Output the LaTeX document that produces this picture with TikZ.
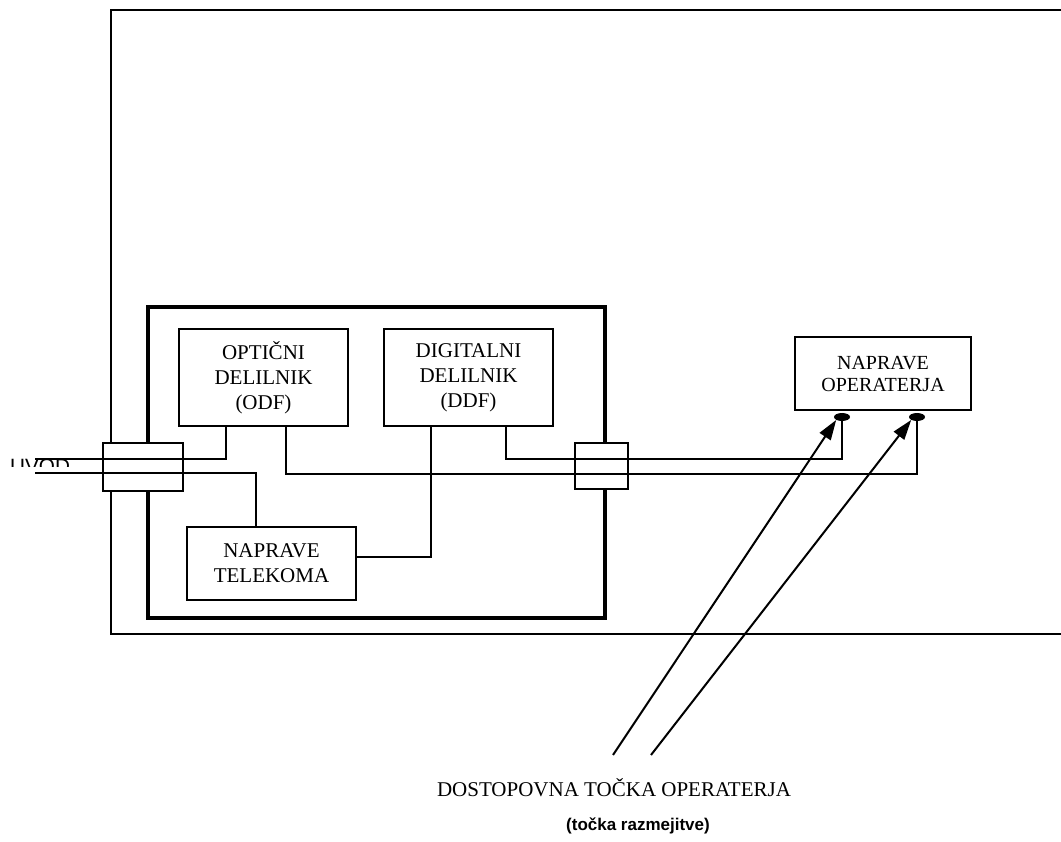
\documentclass[tikz,border=0pt]{standalone}
\usepackage{fontspec}
\setmainfont{Liberation Serif}
\setsansfont{Liberation Sans}
\usetikzlibrary{shapes.geometric,arrows.meta}
\begin{document}
\begin{tikzpicture}[x=1pt,y=-1pt,
  thin line/.style={line width=2pt},
  box/.style={draw,line width=2pt,fill=white,inner sep=0pt,align=center,
    font={\fontsize{21}{25}\selectfont}},
  conn/.style={draw,line width=2pt,fill=white,inner sep=0pt},
  dotnode/.style={ellipse,fill=black,inner sep=0pt,minimum width=16pt,minimum height=8pt},
  pointer/.style={line width=2pt,-{Triangle[length=20pt,width=13pt]}}]
\useasboundingbox (0,0) rectangle (1061,842);
% outer building outline
\draw[line width=2pt] (1062,10) -- (111,10) -- (111,634) -- (1062,634);
% inner thick box
\draw[line width=4.5pt] (148,307) rectangle (605,618);
% boxes
\node[box,minimum width=169pt,minimum height=97pt] (odf) at (263.5,377.5) {OPTIČNI\\DELILNIK\\(ODF)};
\node[box,minimum width=169pt,minimum height=97pt] (ddf) at (468.5,377.5) {DIGITALNI\\DELILNIK\\(DDF)};
\node[box,minimum width=169pt,minimum height=73pt] (tel) at (271.5,563.5) {NAPRAVE\\TELEKOMA};
\node[box,minimum width=176pt,minimum height=73pt,font={\fontsize{20}{22}\selectfont}] (op) at (883,373.5) {NAPRAVE\\OPERATERJA};
% connector boxes
\node[conn,minimum width=80pt,minimum height=48pt] (cl) at (143,467) {};
\node[conn,minimum width=53pt,minimum height=46pt] (cr) at (601.5,466) {};
% demarcation points
\node[dotnode] (d1) at (842,417) {};
\node[dotnode] (d2) at (917,417) {};
% UVOD label (partly hidden)
\begin{scope}
\clip (0,440) rectangle (100,466);
\node[anchor=base west,inner sep=0pt,font={\sffamily\fontsize{20.7}{24}\selectfont}] (uvod) at (10,473) {UVOD};
\end{scope}
% free ends
\coordinate (in1) at (35,459);
\coordinate (in2) at (35,473);
% lines
\draw[thin line] (in1) -| ([xshift=-37.5pt]odf.south);
\draw[thin line] (in2) -| ([xshift=-15.5pt]tel.north);
\draw[thin line] ([xshift=22.5pt]odf.south) -- ++(0,47) -| (d2.south);
\draw[thin line] ([xshift=37.5pt]ddf.south) -- ++(0,32) -| (d1.south);
\draw[thin line] ([xshift=-37.5pt]ddf.south) |- ([yshift=6.5pt]tel.east);
% pointers
\coordinate (p1) at (613,755);
\coordinate (p2) at (651,755);
\draw[pointer] (p1) -- (d1.south west);
\draw[pointer] (p2) -- (d2.south west);
% captions
\node[anchor=base,inner sep=0pt,font={\fontsize{21}{25}\selectfont}] (cap1) at (614,796) {DOSTOPOVNA TOČKA OPERATERJA};
\node[anchor=base,inner sep=0pt,font={\sffamily\bfseries\fontsize{17}{20}\selectfont}] (cap2) at (638,830) {(točka razmejitve)};
\end{tikzpicture}
\end{document}
